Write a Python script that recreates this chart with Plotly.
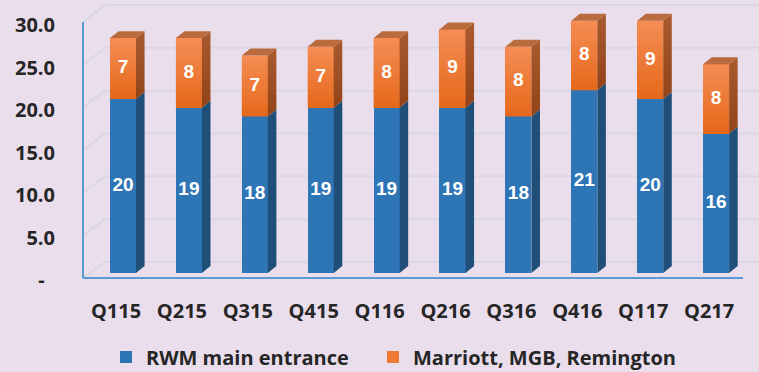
import plotly.graph_objects as go

# ---- data ----
quarters = ["Q115", "Q215", "Q315", "Q415", "Q116", "Q216", "Q316", "Q416", "Q117", "Q217"]
rwm_main = [20, 19, 18, 19, 19, 19, 18, 21, 20, 16]
marriott_mgb_rem = [7, 8, 7, 7, 8, 9, 8, 8, 9, 8]
y_ticks = [0, 5, 10, 15, 20, 25, 30]
y_tick_text = ["-\u00a0\u00a0", "5.0", "10.0", "15.0", "20.0", "25.0", "30.0"]

# ---- canvas geometry ----
W, H = 759, 372
ML, MR, MT, MB = 83, 0, 0, 90
PW, PH = W - ML - MR, H - MT - MB

BLUE, BLUE_SIDE = "#2e75b6", "#1f4e79"
ORANGE = "#ef7a33"
ORANGE_GRAD = [[0, "#e5681a"], [1, "#f58d55"]]
ORANGE_SIDE_GRAD = [[0, "#924418"], [1, "#a95b2f"]]
ORANGE_TOP = "#b96b3d"
BG = "#eadeed"
WALL_LINE = "#5b9bd5"
GRID = "#d9d8e2"
TXT = "#262626"
FONT = "Open Sans, Lato, sans-serif"
LABEL_FONT = "Liberation Sans Narrow, Liberation Sans, Arial, sans-serif"

# bar geometry (data units)
x_range = [-0.607, 9.651]
y_range = [-1.034, 31.38]
bar_w = 0.395
dx, dy = 0.13, 0.8  # depth offset for the pseudo-3D faces

xs = list(range(len(quarters)))
tops_blue = rwm_main
tops_total = [a + b for a, b in zip(rwm_main, marriott_mgb_rem)]


def px_x(p):
    return (p - ML) / PW


def px_y(p):
    return (MT + PH - p) / PH


# wall scales (pixel rows for a value)
def front_row(v):
    return 278 - 8.53 * v


def back_row(v):
    return 262 - 8.567 * v


fig = go.Figure()

# flat stacked bars (also provide the legend entries)
for vals, name, col, leg in [(rwm_main, "RWM main entrance", BLUE, "legend"),
                             (marriott_mgb_rem, "Marriott, MGB, Remington", ORANGE, "legend2")]:
    fig.add_bar(x=xs, y=vals, width=bar_w, name=name, legend=leg,
                marker=dict(color=col, line=dict(width=0)), hoverinfo="skip")


def front_face(x, b, t):
    l, r = x - bar_w / 2, x + bar_w / 2
    return [l, r, r, l, l], [b, b, t, t, b]


def side_face(x, b, t):
    r = x + bar_w / 2
    return [r, r + dx, r + dx, r, r], [b, b + dy, t + dy, t, b]


def top_face(x, t):
    l, r = x - bar_w / 2, x + bar_w / 2
    return [l, l + dx, r + dx, r, l], [t, t + dy, t + dy, t, t]


def poly(fx, fy, **fill):
    fig.add_scatter(x=fx, y=fy, mode="lines", fill="toself",
                    line=dict(width=0), showlegend=False, hoverinfo="skip", **fill)


for x, b, t in zip(xs, tops_blue, tops_total):
    # shaded front of the upper segment
    fx, fy = front_face(x, b, t)
    poly(fx, fy, fillgradient=dict(type="vertical", colorscale=ORANGE_GRAD))
    # right-hand faces
    fx, fy = side_face(x, 0, b)
    poly(fx, fy, fillcolor=BLUE_SIDE)
    fx, fy = side_face(x, b, t)
    poly(fx, fy, fillgradient=dict(type="vertical", colorscale=ORANGE_SIDE_GRAD))
    # top face
    fx, fy = top_face(x, t)
    poly(fx, fy, fillcolor=ORANGE_TOP)

# value labels centred in each segment
lab_font = dict(family=LABEL_FONT, size=19, color="white", weight="bold")
fig.add_scatter(x=xs, y=[v / 2 for v in rwm_main], mode="text",
                text=[str(v) for v in rwm_main], textfont=lab_font,
                showlegend=False, hoverinfo="skip")
fig.add_scatter(x=xs, y=[b + o / 2 for b, o in zip(rwm_main, marriott_mgb_rem)], mode="text",
                text=[str(v) for v in marriott_mgb_rem], textfont=lab_font,
                showlegend=False, hoverinfo="skip")

# invisible trace to carry the value-axis tick labels
fig.add_scatter(x=[None], y=[None], yaxis="y2", showlegend=False, hoverinfo="skip")

# walls: back-wall gridlines, side-wall diagonals, front edges
shapes = []
for v in y_ticks:
    shapes.append(dict(type="line", xref="paper", yref="paper",
                       x0=px_x(105), x1=px_x(759), y0=px_y(back_row(v)), y1=px_y(back_row(v)),
                       line=dict(color=GRID, width=2), layer="below"))
    shapes.append(dict(type="line", xref="paper", yref="paper",
                       x0=px_x(83), x1=px_x(105), y0=px_y(front_row(v)), y1=px_y(back_row(v)),
                       line=dict(color=GRID, width=2), layer="below"))
shapes.append(dict(type="line", xref="paper", yref="paper",
                   x0=px_x(83), x1=px_x(83), y0=px_y(front_row(0)), y1=px_y(front_row(30)),
                   line=dict(color=WALL_LINE, width=2), layer="below"))
shapes.append(dict(type="line", xref="paper", yref="paper",
                   x0=px_x(83), x1=px_x(743), y0=px_y(front_row(0)), y1=px_y(front_row(0)),
                   line=dict(color=WALL_LINE, width=2), layer="below"))

legend_common = dict(orientation="h", y=px_y(357), xanchor="left", yanchor="middle",
                     font=dict(size=20, weight="bold", color=TXT),
                     bgcolor="rgba(0,0,0,0)")

fig.update_layout(
    width=W, height=H,
    margin=dict(l=ML, r=MR, t=MT, b=MB, autoexpand=False),
    paper_bgcolor=BG, plot_bgcolor="rgba(0,0,0,0)",
    barmode="stack",
    shapes=shapes,
    font=dict(family=FONT, color=TXT),
    xaxis=dict(range=x_range, tickvals=xs, ticktext=quarters, showgrid=False,
               zeroline=False, showline=False, ticks="", automargin=False,
               tickfont=dict(size=20, weight="bold", color=TXT),
               ticklabelstandoff=15, ticklabelshift=-7),
    yaxis=dict(range=y_range, showgrid=False, zeroline=False, showticklabels=False,
               ticks="", automargin=False),
    yaxis2=dict(range=[-0.236, 33.0], overlaying="y", side="left", tickvals=y_ticks,
                ticktext=y_tick_text, showgrid=False, zeroline=False, showline=False,
                ticks="", automargin=False, tickfont=dict(size=20, weight="bold", color=TXT),
                ticklabelstandoff=27),
    legend=dict(x=px_x(106), **legend_common),
    legend2=dict(x=px_x(373), **legend_common),
    showlegend=True,
)

fig.write_html("out.html")
